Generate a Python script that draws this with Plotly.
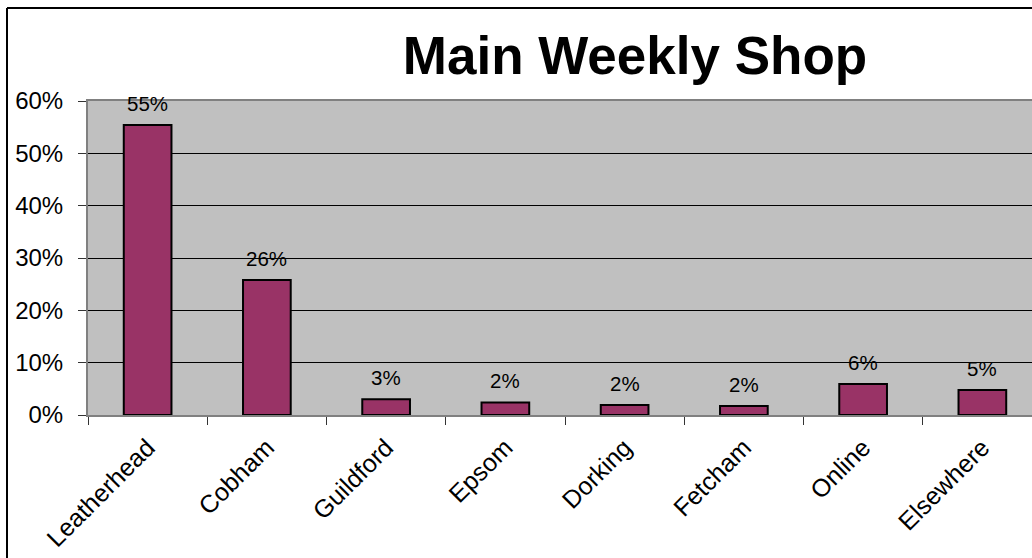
import plotly.graph_objects as go

# Share of respondents naming each place for their main weekly shop
categories = ["Leatherhead", "Cobham", "Guildford", "Epsom", "Dorking", "Fetcham", "Online", "Elsewhere"]
shares = [0.554, 0.258, 0.030, 0.024, 0.019, 0.017, 0.059, 0.048]

FONT = "Arial, 'Liberation Sans', sans-serif"
BAR_COLOR = "#993366"

W, H = 1032, 558
L, T, B = 88, 101, 143
plot_w = W - L
plot_h = H - T - B

fig = go.Figure(
    go.Bar(
        x=categories,
        y=shares,
        marker=dict(color=BAR_COLOR, line=dict(color="black", width=2)),
        hoverinfo="skip",
    )
)

# value labels above each bar
for cat, val in zip(categories, shares):
    fig.add_annotation(
        x=cat, y=val, text=f"{val:.0%}", showarrow=False,
        yanchor="bottom", yshift=8,
        font=dict(family=FONT, size=20.5, color="black"),
    )

# outer chart frame (runs off the right and bottom of the page)
fx = (7 - L) / plot_w
fy = (H - B - 8) / plot_h
fig.add_shape(type="line", xref="paper", yref="paper", x0=fx, x1=1.05, y0=fy, y1=fy,
              line=dict(color="black", width=2))
fig.add_shape(type="line", xref="paper", yref="paper", x0=fx, x1=fx, y0=fy, y1=-0.6,
              line=dict(color="black", width=2))

fig.update_layout(
    width=W, height=H,
    margin=dict(l=L, r=0, t=T, b=B),
    paper_bgcolor="white",
    plot_bgcolor="#C0C0C0",
    showlegend=False,
    bargap=0.6,
    title=dict(
        text="<b>Main Weekly Shop</b>",
        x=635 / W, xanchor="center", xref="container",
        y=1 - 55 / H, yanchor="middle", yref="container",
        font=dict(family=FONT, size=53, color="black"),
    ),
    font=dict(family=FONT, color="black"),
)

fig.update_xaxes(
    type="category",
    range=[-0.5, 7.5 - 10 / 119.3],
    tickangle=-45,
    tickson="boundaries",
    ticks="outside", ticklen=8, tickcolor="#333333", tickwidth=1,
    ticklabelstandoff=6,
    showline=True, linecolor="#808080", linewidth=2, mirror=True,
    showgrid=False,
    tickfont=dict(family=FONT, size=25, color="black"),
)

fig.update_yaxes(
    range=[0, 0.6],
    dtick=0.1,
    tickformat=".0%",
    ticks="outside", ticklen=8, tickcolor="#333333", tickwidth=1,
    ticklabelstandoff=10,
    showline=True, linecolor="#808080", linewidth=2,
    showgrid=True, gridcolor="black", gridwidth=1,
    zeroline=False,
    tickfont=dict(family=FONT, size=24, color="black"),
)

fig.write_html("out.html")
